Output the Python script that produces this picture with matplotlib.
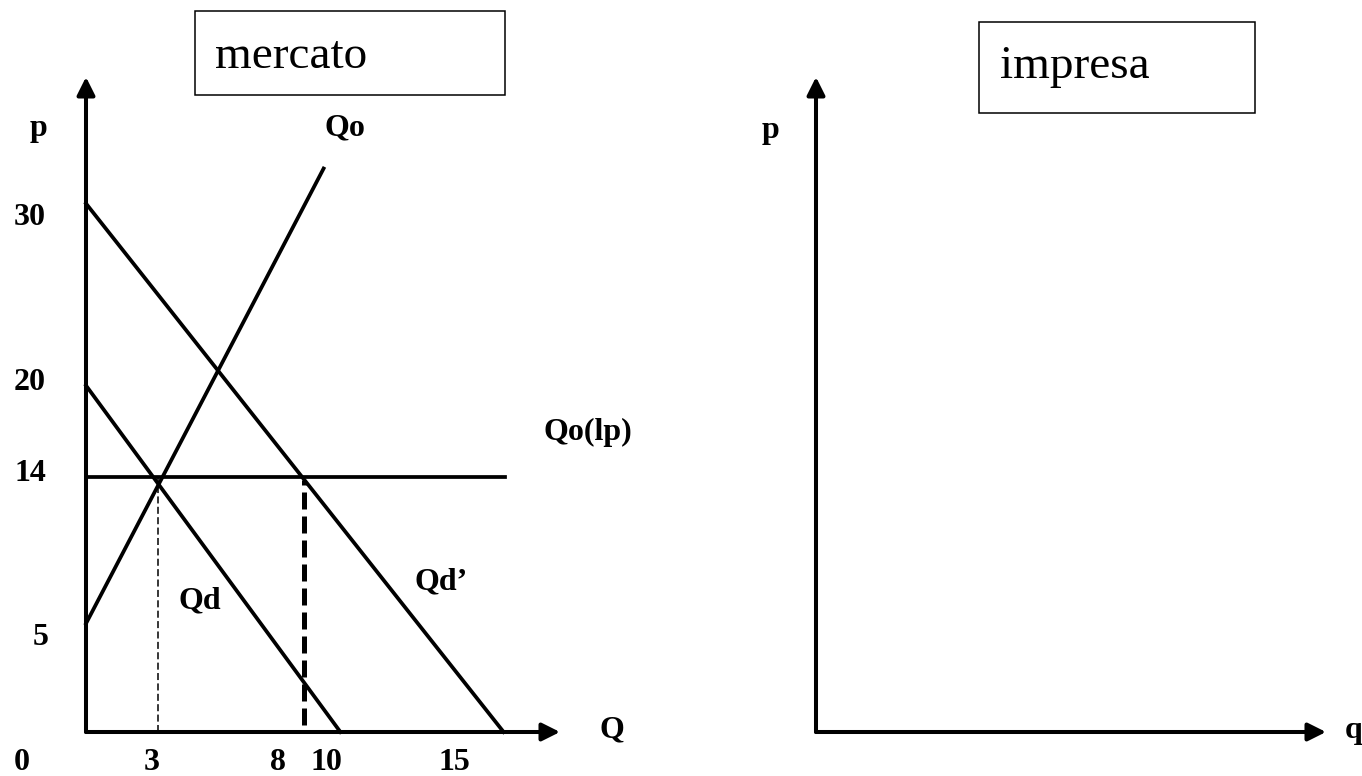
import matplotlib
matplotlib.use("Agg")
import matplotlib.pyplot as plt
from matplotlib.patches import Rectangle

plt.rcParams['font.family'] = ['Liberation Serif', 'DejaVu Serif']

# market panel (Q, p)
qd_q = [0, 10.6]
qd_p = [19.8, 0]
qd2_q = [0, 17.4]
qd2_p = [30.2, 0]
qo_q = [0, 9.9]
qo_p = [6.2, 32.2]
qlp_q = [0, 17.45]
qlp_p = [14.6, 14.6]
eq_q = [3.0, 3.0]
eq_p = [0, 14.6]
new_q = [9.1, 9.1]
new_p = [0.4, 14.4]

# tick labels and where they sit on the drawing
q_labels = ['3', '8', '10', '15']
q_label_at = [2.75, 8.0, 10.0, 15.33]
p_labels = ['30', '20', '14', '5']
p_label_at = [29.4, 20.0, 14.8, 5.4]
p_label_x = [-2.33, -2.33, -2.33, -1.9]

xmax, ymax = 19.75, 37.43
xmax_r = 21.25

W, H = 1362, 776
fig = plt.figure(figsize=(W / 100, H / 100), dpi=100)
ax = fig.add_axes([86 / W, 44 / H, (560 - 86) / W, (732 - 77) / H])
ax2 = fig.add_axes([816 / W, 44 / H, (1326 - 816) / W, (732 - 77) / H])

lab = dict(fontsize=23, fontweight='bold', clip_on=False)
arrow = dict(arrowstyle='-|>', lw=2.9, color='k', mutation_scale=27,
             shrinkA=0, shrinkB=0)


def axes_arrows(a, xm):
    a.set_xlim(0, xm)
    a.set_ylim(0, ymax)
    a.axis('off')
    a.annotate('', xy=(xm, 0), xytext=(0, 0), arrowprops=arrow, annotation_clip=False)
    a.annotate('', xy=(0, ymax), xytext=(0, 0), arrowprops=arrow, annotation_clip=False)


axes_arrows(ax, xmax)
axes_arrows(ax2, xmax_r)

lw = 2.7
ax.plot(qd_q, qd_p, color='k', lw=lw, clip_on=False)
ax.plot(qd2_q, qd2_p, color='k', lw=lw, clip_on=False)
ax.plot(qo_q, qo_p, color='k', lw=lw, clip_on=False)
ax.plot(qlp_q, qlp_p, color='k', lw=lw, clip_on=False)
ax.plot(eq_q, eq_p, color='k', lw=1.1, linestyle=(0, (4.6, 2.2)))
ax.plot(new_q, new_p, color='k', lw=3.6, linestyle=(0, (3.4, 1.4)))

for t, q in zip(q_labels, q_label_at):
    ax.text(q, -1.77, t, ha='center', va='center', **lab)
for t, p, x in zip(p_labels, p_label_at, p_label_x):
    ax.text(x, p, t, ha='center', va='center', **lab)
ax.text(-2.67, -1.77, '0', ha='center', va='center', **lab)
ax.text(-1.96, 34.5, 'p', ha='center', va='center', **lab)
ax.text(10.8, 34.5, 'Qo', ha='center', va='center', **lab)
ax.text(4.75, 7.5, 'Qd', ha='center', va='center', **lab)
ax.text(14.8, 8.6, 'Qd\u2019', ha='center', va='center', **lab)
ax.text(20.9, 17.1, 'Qo(lp)', ha='center', va='center', **lab)
ax.text(21.9, 0.1, 'Q', ha='center', va='center', **lab)

ax.add_patch(Rectangle((4.54, 36.4), 17.46 - 4.54, 41.2 - 36.4, fill=False,
                       lw=1.1, ec='k', clip_on=False))
ax.text(5.375, 37.94, 'mercato', fontsize=34, va='baseline', ha='left', clip_on=False)

# firm panel
ax2.text(-1.875, 34.4, 'p', ha='center', va='center', **lab)
ax2.text(22.4, 0.1, 'q', ha='center', va='center', **lab)
ax2.add_patch(Rectangle((6.79, 35.37), 18.29 - 6.79, 40.57 - 35.37, fill=False,
                        lw=1.1, ec='k', clip_on=False))
ax2.text(7.67, 37.37, 'impresa', fontsize=34, va='baseline', ha='left', clip_on=False)

fig.savefig('out.png', dpi=100)
